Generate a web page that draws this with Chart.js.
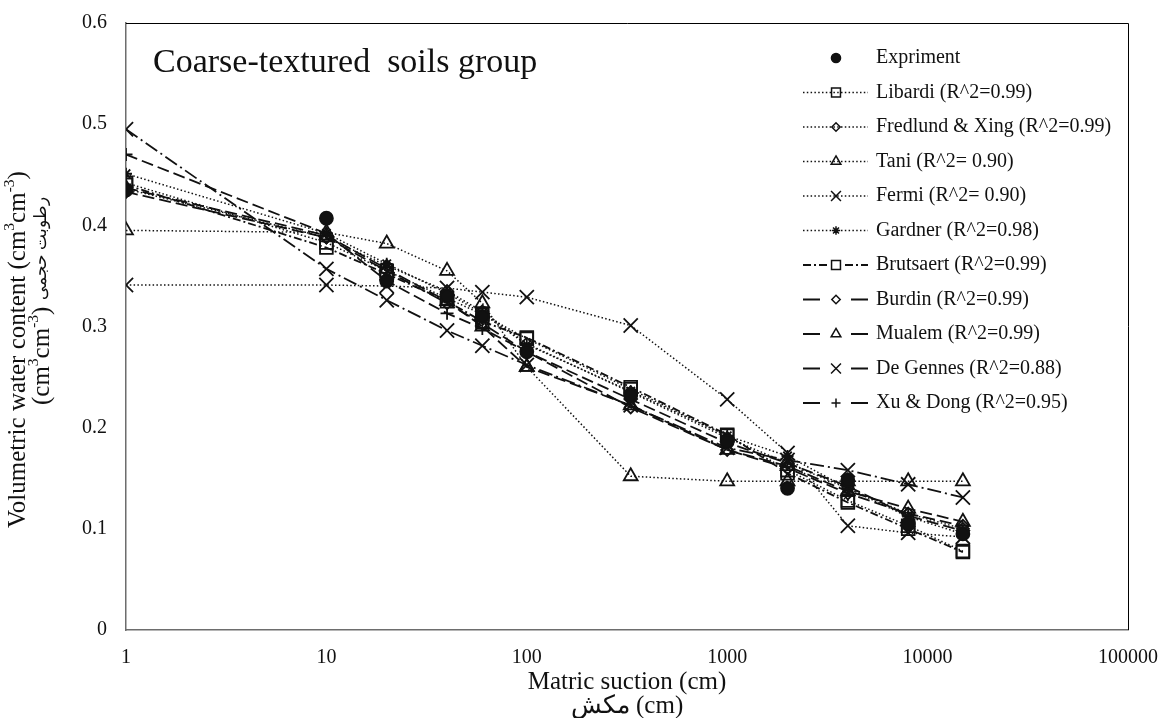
<!DOCTYPE html>
<html>
<head>
<meta charset="utf-8">
<script src="https://cdn.jsdelivr.net/npm/chart.js@4.4.1/dist/chart.umd.min.js"></script>
<style>
html, body { margin: 0; padding: 0; background: #fff; overflow: hidden; }
canvas { display: block; }
</style>
</head>
<body>
<canvas id="soilChart" width="1163" height="718"></canvas>
<script>
// matric suction (cm) where every curve is sampled
const suction = [1, 10, 20, 40, 60, 100, 330, 1000, 2000, 4000, 8000, 15000];

const experiment = [0.435, 0.407, 0.345, 0.330, 0.310, 0.275, 0.232, 0.186, 0.140, 0.148, 0.105, 0.095];
const libardi    = [0.442, 0.383, 0.355, 0.328, 0.312, 0.288, 0.238, 0.192, 0.158, 0.128, 0.103, 0.078];
const fredlund   = [0.436, 0.388, 0.360, 0.335, 0.315, 0.283, 0.235, 0.190, 0.165, 0.140, 0.115, 0.100];
const tani       = [0.395, 0.393, 0.382, 0.355, 0.323, 0.260, 0.152, 0.147, 0.147, 0.147, 0.147, 0.147];
const fermi      = [0.341, 0.341, 0.340, 0.338, 0.334, 0.329, 0.301, 0.228, 0.175, 0.103, 0.096, 0.092];
const gardner    = [0.451, 0.392, 0.362, 0.333, 0.313, 0.282, 0.236, 0.192, 0.172, 0.140, 0.112, 0.095];
const brutsaert  = [0.440, 0.378, 0.352, 0.325, 0.305, 0.289, 0.240, 0.193, 0.155, 0.126, 0.100, 0.077];
const burdin     = [0.433, 0.388, 0.355, 0.323, 0.303, 0.275, 0.220, 0.178, 0.160, 0.135, 0.115, 0.103];
const mualem     = [0.437, 0.390, 0.357, 0.325, 0.300, 0.260, 0.222, 0.178, 0.162, 0.137, 0.120, 0.107];
const deGennes   = [0.495, 0.357, 0.326, 0.296, 0.281, 0.262, 0.222, 0.180, 0.168, 0.158, 0.144, 0.131];
const xuDong     = [0.470, 0.392, 0.345, 0.313, 0.298, 0.275, 0.228, 0.185, 0.165, 0.142, 0.113, 0.098];

const xTicks = [1, 10, 100, 1000, 10000, 100000];
const yTicks = [0, 0.1, 0.2, 0.3, 0.4, 0.5, 0.6];

const SERIF = "'Liberation Serif', 'Times New Roman', serif";
const INK = "#111";
const DOTTED = [1.5, 2.3];
const DASHDOT = [8, 3, 2, 3];
const LONGDASH = [12, 5];
const LONGDASHDOT = [14, 4, 2, 4];

function series(label, values, pointStyle, radius, dash) {
	return {
		label: label,
		data: suction.map((x, i) => ({ x: x, y: values[i] })),
		showLine: dash !== null,
		borderColor: INK,
		borderWidth: dash === DOTTED ? 1.5 : 1.8,
		borderDash: dash || [],
		pointStyle: pointStyle,
		pointRadius: radius,
		pointBorderColor: INK,
		pointBorderWidth: 1.8,
		pointBackgroundColor: pointStyle === "circle" ? INK : "rgba(0,0,0,0)",
		fill: false,
		tension: 0,
	};
}

const datasets = [
	series("Expriment", experiment, "circle", 6.5, null),
	series("Libardi (R^2=0.99)", libardi, "rect", 9, DOTTED),
	series("Fredlund & Xing (R^2=0.99)", fredlund, "rectRot", 6, DOTTED),
	series("Tani (R^2= 0.90)", tani, "triangle", 8, DOTTED),
	series("Fermi (R^2= 0.90)", fermi, "crossRot", 10, DOTTED),
	series("Gardner (R^2=0.98)", gardner, "star", 6, DOTTED),
	series("Brutsaert (R^2=0.99)", brutsaert, "rect", 9, DASHDOT),
	series("Burdin (R^2=0.99)", burdin, "rectRot", 6, LONGDASH),
	series("Mualem (R^2=0.99)", mualem, "triangle", 8, LONGDASH),
	series("De Gennes (R^2=0.88)", deGennes, "crossRot", 10, LONGDASHDOT),
	series("Xu & Dong (R^2=0.95)", xuDong, "cross", 6.5, LONGDASH),
];

// frame: thin black box round the plot area
const frame = {
	id: "frame",
	afterDatasetsDraw(chart) {
		const { ctx, chartArea: a } = chart;
		ctx.save();
		ctx.strokeStyle = "#000";
		ctx.lineWidth = 1;
		ctx.beginPath();
		ctx.moveTo(a.left, a.top + 0.5);
		ctx.lineTo(a.right + 0.5, a.top + 0.5);
		ctx.lineTo(a.right + 0.5, a.bottom);
		ctx.stroke();
		ctx.restore();
	},
};

// rich text, rotated, with superscripts; starts at (cx, bottom) and runs upward
function drawRotated(ctx, parts, cx, bottom, size) {
	ctx.save();
	ctx.translate(cx, bottom);
	ctx.rotate(-Math.PI / 2);
	ctx.textBaseline = "middle";
	ctx.textAlign = "left";
	ctx.fillStyle = INK;
	let x = 0;
	parts.forEach((p) => {
		const s = p.sup ? size * 0.62 : (p.size || size);
		ctx.font = s + "px " + SERIF;
		ctx.fillText(p.t, x, p.sup ? -size * 0.32 : 0);
		x += ctx.measureText(p.t).width;
	});
	ctx.restore();
}

const annotations = {
	id: "annotations",
	afterDraw(chart) {
		const { ctx, chartArea: a } = chart;
		ctx.save();
		ctx.fillStyle = INK;
		ctx.textBaseline = "middle";
		ctx.textAlign = "left";
		ctx.font = "34px " + SERIF;
		ctx.fillText("Coarse-textured  soils group", a.left + 27, 63);

		// legend
		const lx0 = 803, lx1 = 868, mx = 836, tx = 876;
		chart.data.datasets.forEach((ds, i) => {
			const y = 58 + i * 34.5;
			ctx.strokeStyle = INK;
			ctx.fillStyle = INK;
			if (ds.showLine) {
				ctx.lineWidth = ds.borderWidth;
				const longDash = ds.borderDash[0] >= 10;
				ctx.setLineDash(longDash ? [] : ds.borderDash);
				ctx.beginPath();
				if (longDash) {
					ctx.moveTo(lx0, y); ctx.lineTo(lx0 + 17, y);
					ctx.moveTo(lx1 - 17, y); ctx.lineTo(lx1, y);
				} else if (ds.borderDash === DOTTED) {
					ctx.moveTo(lx0, y); ctx.lineTo(lx1, y);
				} else {
					ctx.moveTo(lx0, y); ctx.lineTo(mx - 9, y);
					ctx.moveTo(mx + 9, y); ctx.lineTo(lx1, y);
				}
				ctx.stroke();
			}
			ctx.setLineDash([]);
			ctx.lineWidth = 1.5;
			ctx.fillStyle = ds.pointBackgroundColor;
			Chart.helpers.drawPoint(ctx, {
				pointStyle: ds.pointStyle,
				radius: ds.pointRadius * 0.7,
				rotation: 0,
				borderWidth: 1.5,
			}, mx, y);
			ctx.fillStyle = INK;
			ctx.font = "20px " + SERIF;
			ctx.fillText(ds.label, tx, y);
		});
		ctx.restore();

		drawRotated(ctx, [
			{ t: "Volumetric water content (cm" }, { t: "3", sup: true },
			{ t: "cm" }, { t: "-3", sup: true }, { t: ")" },
		], 18, 528, 25);
		drawRotated(ctx, [
			{ t: "(cm" }, { t: "3", sup: true },
			{ t: "cm" }, { t: "-3", sup: true }, { t: ") " },
			{ t: "رطوبت حجمی", size: 17 },
		], 42, 405, 25);
	},
};

new Chart(document.getElementById("soilChart"), {
	type: "line",
	data: { datasets: datasets },
	options: {
		responsive: false,
		animation: false,
		devicePixelRatio: 1,
		layout: { padding: { top: 23, right: 35, left: 0, bottom: 0 } },
		plugins: {
			legend: { display: false },
			tooltip: { enabled: false },
		},
		scales: {
			x: {
				type: "logarithmic",
				min: 1,
				max: 100000,
				afterFit: (scale) => {
					scale.height = 88;
					scale.paddingLeft = 0;
					scale.paddingRight = 0;
				},
				afterBuildTicks: (scale) => {
					scale.ticks = xTicks.map((v) => ({ value: v }));
				},
				grid: { display: false, drawTicks: false },
				border: { display: true, color: "#6d6d6d", width: 1.5 },
				ticks: {
					autoSkip: false,
					maxRotation: 0,
					padding: 16,
					color: INK,
					font: { family: SERIF, size: 20 },
					callback: (v) => String(v),
				},
				title: {
					display: true,
					text: ["Matric suction (cm)", "مکش (cm)"],
					color: INK,
					font: { family: SERIF, size: 25, lineHeight: 0.96 },
					padding: { top: 0, bottom: 0 },
				},
			},
			y: {
				type: "linear",
				min: 0,
				max: 0.6,
				afterFit: (scale) => {
					scale.width = 126;
					scale.paddingTop = 0;
					scale.paddingBottom = 0;
				},
				afterBuildTicks: (scale) => {
					scale.ticks = yTicks.map((v) => ({ value: v }));
				},
				grid: { display: false, drawTicks: false },
				border: { display: true, color: "#6d6d6d", width: 1.5 },
				ticks: {
					padding: 19,
					color: INK,
					font: { family: SERIF, size: 20 },
					callback: (v) => (v === 0 ? "0" : v.toFixed(1)),
				},
			},
		},
	},
	plugins: [frame, annotations],
});
</script>
</body>
</html>
